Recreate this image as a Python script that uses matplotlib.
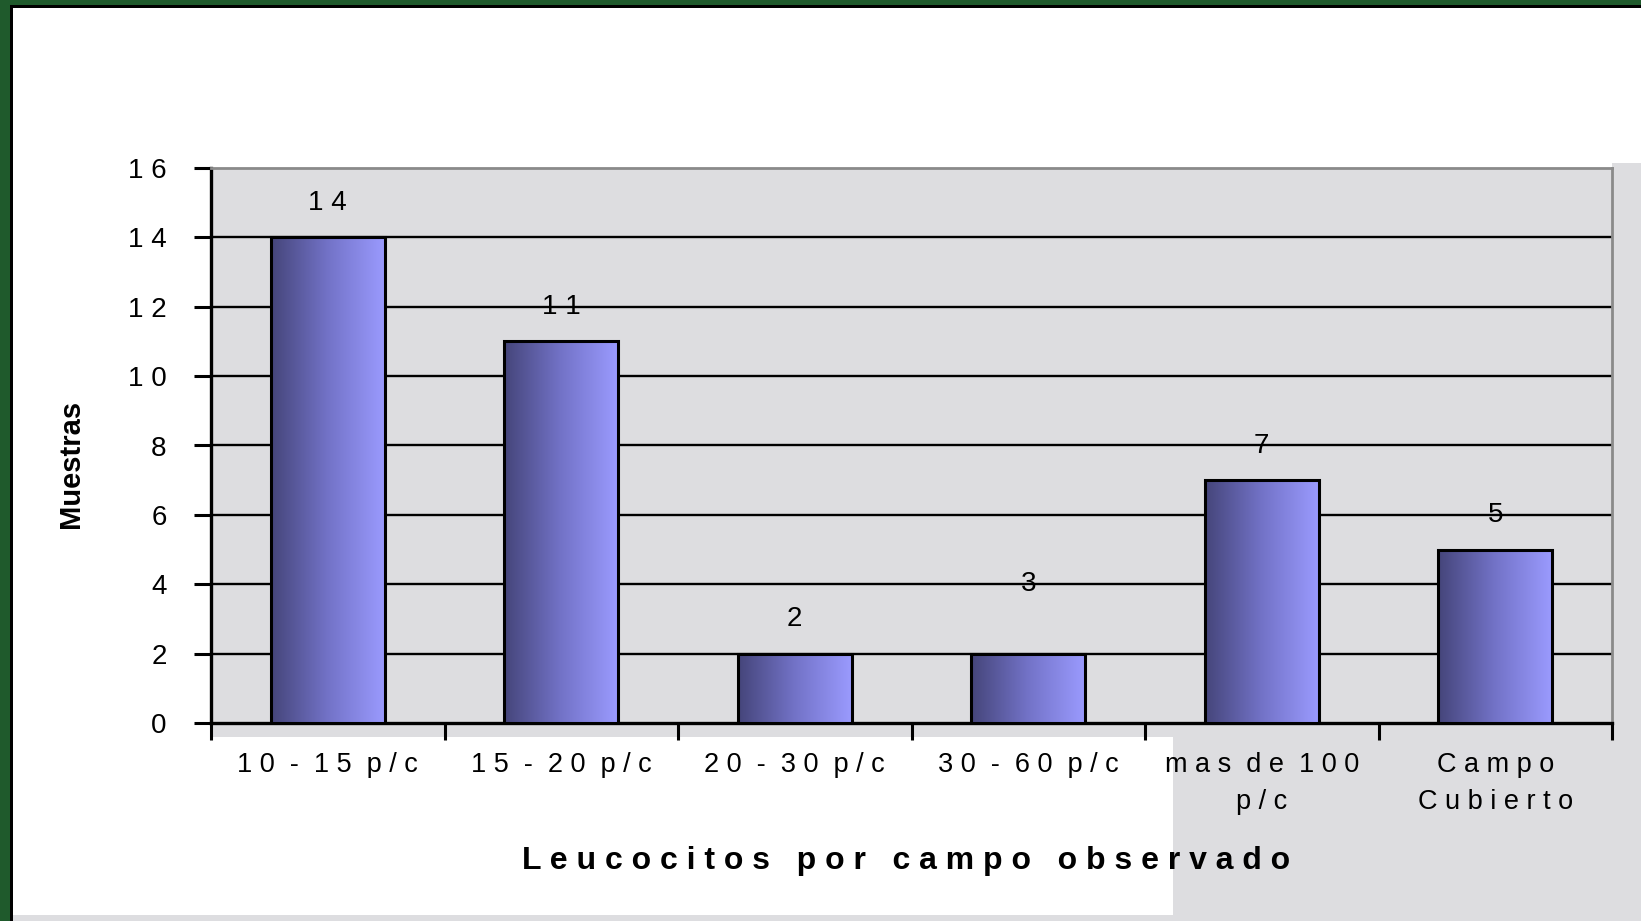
import matplotlib
matplotlib.use("Agg")
import matplotlib.pyplot as plt
import numpy as np
from matplotlib.patches import Rectangle
from matplotlib.colors import LinearSegmentedColormap

# ---- data ----
categories = ["1 0  -  1 5  p / c", "1 5  -  2 0  p / c", "2 0  -  3 0  p / c",
              "3 0  -  6 0  p / c", "m a s  d e  1 0 0\np / c", "C a m p o\nC u b i e r t o"]
bar_values = [14, 11, 2, 2, 7, 5]
label_values = [14, 11, 2, 3, 7, 5]
y_ticks = [0, 2, 4, 6, 8, 10, 12, 14, 16]
y_label = "Muestras"
x_label = "L e u c o c i t o s   p o r   c a m p o   o b s e r v a d o"

W, H = 1641, 921
fig = plt.figure(figsize=(W / 100, H / 100), dpi=100)
fig.patch.set_facecolor("white")

def px_rect(x0, y0, x1, y1, color, z=-5):
    r = Rectangle((x0 / W, 1 - y1 / H), (x1 - x0) / W, (y1 - y0) / H,
                  transform=fig.transFigure, facecolor=color, edgecolor="none", zorder=z)
    fig.patches.append(r)

marble = "#dddde0"
# green frame
px_rect(0, 0, 10, H, "#1f5a2c")
px_rect(0, 0, W, 5, "#1f5a2c")
px_rect(10, 5, 13, H, "black")
px_rect(10, 5, W, 8, "black")
# marble zones outside plot
px_rect(211, 723, 1612, 737, marble)
px_rect(1612, 163, W, H, marble)
px_rect(1173, 737, W, H, marble)
px_rect(13, 915, W, H, marble)

L, R, T, B = 211, 1612, 168, 723
ax = fig.add_axes([L / W, 1 - B / H, (R - L) / W, (B - T) / H])
ax.set_zorder(5)
ax.set_facecolor(marble)

x = np.arange(len(categories))

for t in y_ticks[1:-1]:
    ax.axhline(t, color="black", lw=1.7, zorder=1)

bars = ax.bar(x, bar_values, width=0.49, facecolor="none", edgecolor="black",
              linewidth=2.2, zorder=4)
cmap = LinearSegmentedColormap.from_list("g", ["#45457a", "#7373c8", "#9b9bff"])
grad = np.linspace(0, 1, 256).reshape(1, -1)
for b in bars:
    x0, w, h = b.get_x(), b.get_width(), b.get_height()
    im = ax.imshow(grad, cmap=cmap, aspect="auto", extent=(x0, x0 + w, 0, h),
                   zorder=3, interpolation="bicubic")
    im.set_clip_path(b)
ax.set_xlim(-0.5, len(categories) - 0.5)
ax.set_ylim(0, 16)

for xi, h, lbl in zip(x, bar_values, label_values):
    ax.text(xi, max(h, lbl) + 1.0, " ".join(str(lbl)), ha="center", va="center",
            fontsize=20, family="Liberation Sans", color="black", zorder=5)

ax.set_yticks(y_ticks)
ax.set_yticklabels([" ".join(str(t)) for t in y_ticks], family="Liberation Sans", fontsize=20)
ax.tick_params(axis="y", length=12, width=2.2, direction="out", pad=20)

ax.set_xticks(x)
ax.set_xticklabels(categories, family="Liberation Sans", fontsize=19.5, linespacing=1.55)
ax.set_xticks(np.arange(-0.5, len(categories)), minor=True)
ax.tick_params(axis="x", which="major", length=0, pad=21)
ax.tick_params(axis="x", which="minor", length=12, width=2.2, direction="out")

for s in ["left", "bottom"]:
    ax.spines[s].set_color("black")
    ax.spines[s].set_linewidth(2.4)
for s in ["top", "right"]:
    ax.spines[s].set_color("#8a8a8a")
    ax.spines[s].set_linewidth(2.0)

ax.set_ylabel(y_label, family="Liberation Sans", fontsize=21, fontweight="bold")
ax.yaxis.set_label_coords((71 - L) / (R - L), (B - 464) / (B - T))
ax.yaxis.label.set_va("center")
ax.set_xlabel(x_label, family="Liberation Sans", fontsize=23, fontweight="bold")
ax.xaxis.set_label_coords((906 - L) / (R - L), (B - 861) / (B - T))
ax.xaxis.label.set_va("center")

fig.savefig("out.png", dpi=100, facecolor=fig.get_facecolor())
